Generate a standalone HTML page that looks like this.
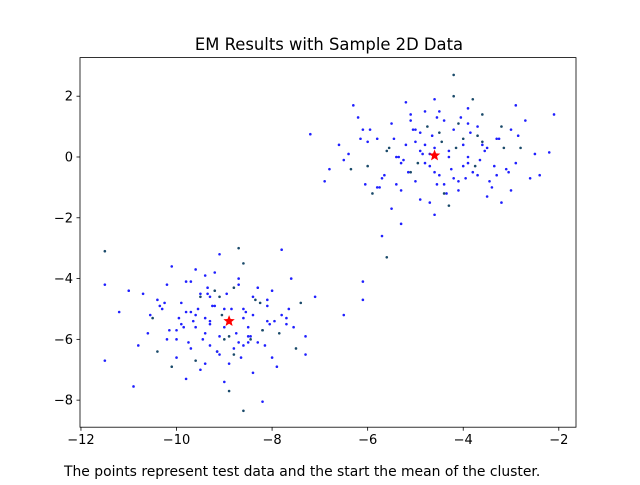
<!DOCTYPE html>
<html><head><meta charset="utf-8"><style>
body{margin:0;background:#fff;}
svg text{font-family:"DejaVu Sans","Liberation Sans",sans-serif;}
</style></head><body>
<svg id="chart" width="640" height="480" xmlns="http://www.w3.org/2000/svg">
<rect width="640" height="480" fill="#fff"/>
<text x="329" y="50" text-anchor="middle" font-size="16.4">EM Results with Sample 2D Data</text>
<g id="points"></g>
<g id="means"></g>
<rect x="80" y="57.6" width="496" height="369.6" fill="none" stroke="#000" stroke-width="0.8"/>
<g id="xticks"></g>
<g id="yticks"></g>
<text x="64" y="476" font-size="13.9">The points represent test data and the start the mean of the cluster.</text>
</svg>
<script>
const xTicks=[-12,-10,-8,-6,-4,-2];
const yTicks=[2,0,-2,-4,-6,-8];
const clusterAX=[-4.2,-2.1,-2.2,-7.2,-5.7,-5.6,-5.3,-4.6,-4.4,-4.9,-5.1,-3.9,-3.6,-3.3,-3.0,-2.8,-2.6,-2.5,-5.5,-5.8,-6.0,-6.3,-6.6,-6.9,-4.1,-3.8,-4.7,-5.2,-5.4,-3.5,-3.2,-4.3,-4.0,-4.8,-5.0,-3.7,-3.4,-2.9,-6.2,-6.5,-5.9,-4.5,-4.2,-3.1,-2.7,-5.6,-5.3,-4.9,-4.4,-3.9,-3.6,-6.8,-6.1,-5.7,-4.6,-4.1,-3.3,-3.0,-5.1,-4.8,-4.3,-3.8,-5.5,-6.4,-2.4,-4.0,-4.7,-5.2,-3.5,-3.9,-4.5,-5.0,-6.0,-2.9,-3.2,-4.2,-5.8,-5.4,-4.6,-3.7,
-4.45,-4.25,-4.85,-5.05,-4.55,-4.15,-3.95,-4.65,-5.25,-5.45,-3.75,-3.55,-4.35,-4.05,-5.15,-4.75,-3.85,-3.45,-5.35,-5.65,-4.95,-4.5,-4.3,-4.0,-3.65,-5.55,-5.75,-3.25,-3.05,-6.15,-6.35,-4.6,-4.9,-5.1,-4.2,-3.6,-3.35,-5.95,-2.85,-4.7,-4.4,-5.3,-3.9,-4.1,-5.0,-3.15,-6.05,-4.8,-4.55,-3.7];
const clusterAY=[2.7,1.4,0.15,0.75,-2.6,-3.3,-2.2,0.3,1.2,0.8,-0.5,1.6,0.4,-0.6,0.9,0.3,-0.7,0.1,1.1,0.6,-0.3,1.7,0.4,-0.8,-1.1,1.9,-1.5,1.8,-0.9,-1.3,1.0,0.2,-0.3,1.5,0.5,0.7,-1.0,-0.2,1.3,-0.1,-1.2,-0.6,0.9,-0.4,1.2,0.2,-0.2,-1.4,-0.9,0.0,1.4,-0.4,0.9,-0.7,1.9,1.1,0.6,-1.1,1.2,0.4,-1.6,-0.5,-1.7,0.1,-0.6,0.6,-0.3,0.4,0.3,-0.2,0.8,-0.8,0.5,1.7,-1.5,2.0,-1.0,0.0,-1.9,1.0,
0.5,-0.4,0.1,0.9,-0.9,0.3,-0.7,0.7,-0.1,0.6,-0.3,0.2,-1.2,1.3,-0.5,1.0,0.8,-0.8,0.0,-0.6,-0.2,1.5,0.0,0.4,-0.1,0.3,-1.0,0.6,-0.5,0.6,-0.4,-0.5,0.2,1.4,-0.7,0.5,-0.3,0.9,0.7,0.1,-1.2,-1.1,1.1,-0.8,0.9,0.3,-0.9,-0.2,1.3,-0.6];
const clusterBX=[-11.5,-11.5,-11.5,-10.9,-8.2,-8.6,-6.5,-6.1,-6.1,-7.8,-8.7,-7.1,-7.3,-7.3,-9.0,-8.8,-9.3,-9.6,-9.9,-10.2,-10.5,-10.7,-8.5,-8.1,-7.7,-7.5,-9.2,-9.5,-9.8,-10.1,-10.4,-8.9,-8.4,-8.0,-7.9,-9.1,-9.4,-9.7,-10.0,-10.3,-8.6,-8.3,-7.6,-9.0,-9.3,-9.6,-10.6,-11.0,-11.2,-8.7,-8.2,-7.8,-9.5,-9.9,-10.2,-8.8,-9.1,-9.4,-8.5,-8.0,-7.4,-9.7,-10.0,-10.8,-9.2,-8.9,-8.4,-9.8,-10.4,-7.7,-9.0,-8.6,-9.3,-8.1,-9.6,-10.1,-8.3,-9.4,-8.7,-9.1,
-9.05,-8.75,-9.25,-8.55,-9.45,-8.35,-9.65,-8.15,-9.85,-8.95,-9.15,-8.45,-9.35,-8.65,-9.55,-8.25,-9.75,-8.05,-9.95,-10.15,-7.85,-10.35,-7.65,-9.0,-8.8,-9.2,-8.6,-9.4,-8.4,-9.6,-8.2,-9.8,-10.0,-7.95,-10.25,-8.9,-9.1,-8.7,-9.3,-8.5,-9.5,-10.55,-7.55,-8.85,-9.35,-8.45,-9.7,-8.1,-9.15,-8.6];
const clusterBY=[-3.1,-4.2,-6.7,-7.55,-8.05,-8.35,-5.2,-4.1,-4.7,-3.05,-3.0,-4.6,-5.9,-6.5,-5.0,-4.3,-6.2,-5.6,-4.8,-6.0,-5.3,-4.5,-5.9,-4.9,-5.5,-6.3,-3.8,-7.0,-5.1,-3.6,-6.4,-6.8,-5.2,-4.4,-6.9,-4.6,-5.8,-4.1,-6.6,-5.0,-3.5,-6.1,-4.0,-7.4,-5.4,-6.7,-5.8,-4.4,-5.1,-4.0,-5.7,-5.2,-4.5,-5.5,-4.2,-6.5,-5.9,-3.9,-5.6,-6.6,-4.8,-6.3,-5.7,-6.2,-4.9,-7.7,-7.1,-7.3,-4.7,-5.3,-6.0,-5.0,-4.6,-5.4,-3.7,-6.9,-4.3,-5.3,-6.1,-3.2,
-5.2,-5.8,-4.9,-5.1,-6.0,-4.7,-5.4,-6.2,-5.6,-4.5,-6.4,-5.9,-4.3,-6.6,-5.0,-4.8,-6.1,-5.5,-5.3,-5.7,-5.8,-4.9,-5.0,-5.6,-6.3,-4.4,-5.3,-6.8,-4.6,-5.2,-5.7,-4.1,-6.0,-5.4,-4.8,-5.9,-6.5,-4.2,-5.5,-6.1,-4.6,-5.2,-5.6,-5.0,-4.5,-6.0,-5.1,-4.7,-6.4,-6.2];
const meanX=[-4.6,-8.9];
const meanY=[0.05,-5.4];
const xMin=-12.02,xMax=-1.64,yMin=-8.89,yMax=3.27;
const L=80,R=576,T=57.6,B=427.2;
function sx(v){return L+(v-xMin)/(xMax-xMin)*(R-L);}
function sy(v){return B-(v-yMin)/(yMax-yMin)*(B-T);}
const NS="http://www.w3.org/2000/svg";
function mk(t,a,p){const e=document.createElementNS(NS,t);for(const k in a)e.setAttribute(k,a[k]);p.appendChild(e);return e;}
const pg=document.getElementById('points');
function drawPts(xs,ys){for(let i=0;i<xs.length;i++){
const c=mk('circle',{cx:sx(xs[i]),cy:sy(ys[i]),r:1.3,fill:i%5==0?'#1a4a6a':'#1f1fff'},pg);

}}
drawPts(clusterAX,clusterAY);drawPts(clusterBX,clusterBY);
const mg=document.getElementById('means');
for(let i=0;i<meanX.length;i++){
const cx=sx(meanX[i]),cy=sy(meanY[i]);let d='';
for(let k=0;k<10;k++){const r=k%2?2.6:6,a=-Math.PI/2+k*Math.PI/5;d+=(k?'L':'M')+(cx+r*Math.cos(a))+' '+(cy+r*Math.sin(a));}
const s=mk('path',{d:d+'Z',fill:'#ff0000'},mg);

}
const xg=document.getElementById('xticks');
xTicks.forEach(v=>{const x=sx(v);
mk('line',{x1:x,x2:x,y1:B,y2:B+3.5,stroke:'#000','stroke-width':0.8},xg);
const t=mk('text',{x:x,y:B+17,'text-anchor':'middle','font-size':13},xg);t.textContent=String(v).replace('-','\u2212');

});
const yg=document.getElementById('yticks');
yTicks.forEach(v=>{const y=sy(v);
mk('line',{x1:L-3.5,x2:L,y1:y,y2:y,stroke:'#000','stroke-width':0.8},yg);
const t=mk('text',{x:L-7,y:y+4.5,'text-anchor':'end','font-size':13},yg);t.textContent=String(v).replace('-','\u2212');

});
</script>
</body></html>
